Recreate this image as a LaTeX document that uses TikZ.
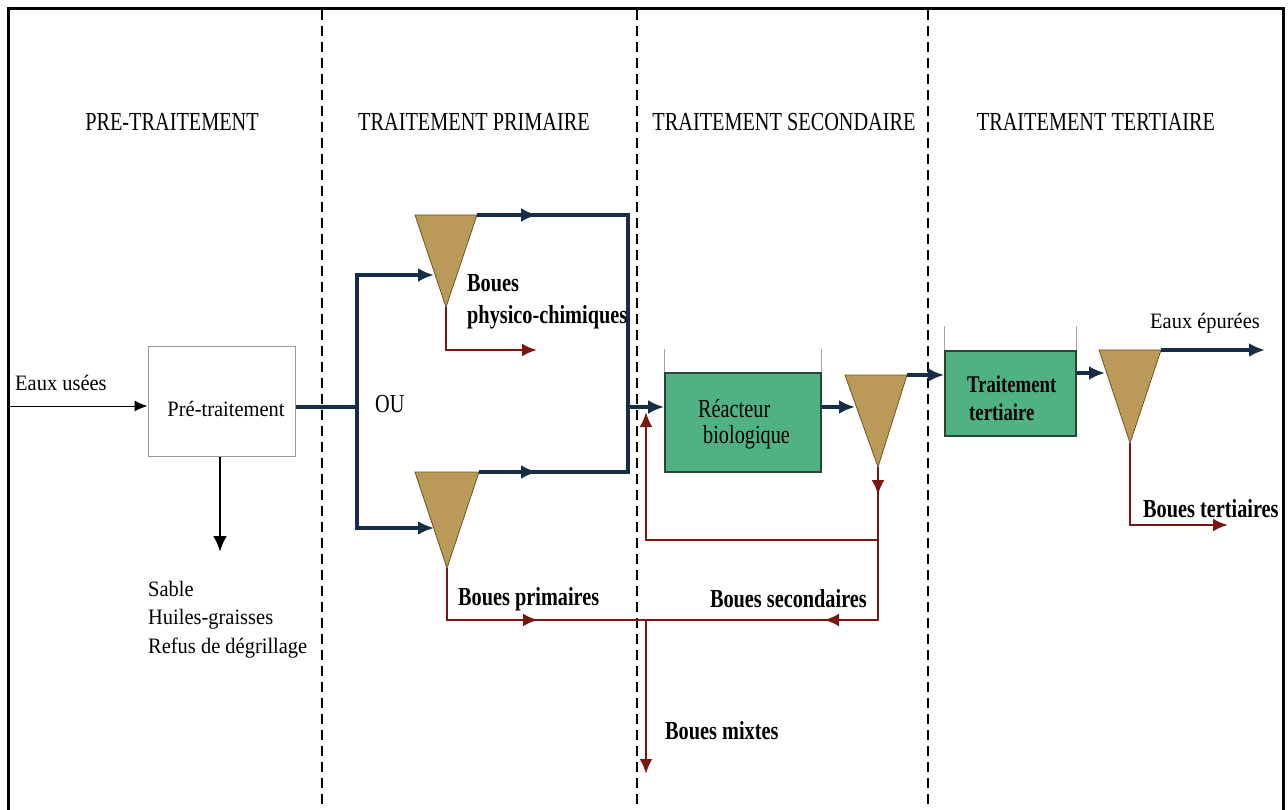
\documentclass[tikz,border=0pt]{standalone}
\usepackage{fontspec}
\setmainfont{Liberation Serif}
\newfontfamily\condserif[FakeStretch=0.78]{Liberation Serif}
\newfontfamily\bodyserif[FakeStretch=0.93]{Liberation Serif}
\usetikzlibrary{arrows.meta}

\definecolor{flowblue}{RGB}{22,45,72}
\definecolor{sludge}{RGB}{122,22,16}
\definecolor{clarfill}{RGB}{187,153,88}
\definecolor{clardraw}{RGB}{110,85,40}
\definecolor{reactgreen}{RGB}{80,178,130}
\definecolor{reactdraw}{RGB}{40,70,55}

\tikzset{
  hdr/.style={font=\condserif\fontsize{26}{30}\selectfont, inner sep=0pt},
  lbl/.style={font=\bodyserif\fontsize{22}{26}\selectfont, inner sep=0pt},
  blbl/.style={font=\condserif\bfseries\fontsize{26}{30}\selectfont, inner sep=0pt},
  tanklbl/.style={font=\condserif\fontsize{26}{30}\selectfont, inner sep=0pt},
  tertlbl/.style={font=\condserif\bfseries\fontsize{24}{28}\selectfont, inner sep=0pt},
  frameline/.style={line width=3pt, black},
  zoneline/.style={line width=2.4pt, black, dash pattern=on 10pt off 6pt},
  prebox/.style={draw=gray!80, line width=1pt, fill=white, inner sep=0pt},
  tank/.style={draw=reactdraw, line width=1.8pt, fill=reactgreen, inner sep=0pt},
  wall/.style={draw=gray!70, line width=1pt},
  clar/.style={fill=clarfill, draw=clardraw, line width=0.8pt, line join=miter},
  bl/.style={draw=flowblue, line width=3.2pt, line join=miter},
  blarrow/.style={bl, -{Latex[length=16pt,width=14pt]}},
  rd/.style={draw=sludge, line width=2.8pt, line join=miter},
  rdarrow/.style={rd, -{Latex[length=15pt,width=13pt]}},
  thinarrow/.style={draw=black, line width=1pt, -{Latex[length=13pt,width=11pt]}},
  blkarrow/.style={draw=black, line width=2.8pt, -{Latex[length=16pt,width=14pt]}},
}

\begin{document}
\begin{tikzpicture}[x=1pt,y=-1pt]
\useasboundingbox (0,0) rectangle (1288,810);
\fill[white] (0,0) rectangle (1288,810);

% outer frame (open at the bottom) and zone separators
\draw[frameline] (8,812) -- (8,9) -- (1283,9) -- (1283,812);
\foreach \zx in {322,637,928} \draw[zoneline] (\zx,10) -- (\zx,810);

% zone headings
\node[hdr, anchor=base] (h1) at (172,131) {PRE-TRAITEMENT};
\node[hdr, anchor=base] (h2) at (474,131) {TRAITEMENT PRIMAIRE};
\node[hdr, anchor=base] (h3) at (784,131) {TRAITEMENT SECONDAIRE};
\node[hdr, anchor=base] (h4) at (1096,131) {TRAITEMENT TERTIAIRE};

% ---------- pre-treatment ----------
\node[prebox, minimum width=147pt, minimum height=109pt] (pre) at (221.5,401.5) {};
\node[lbl, anchor=base] (pretxt) at (226,416) {Pré-traitement};
\coordinate (in0) at (8,406);
\draw[thinarrow] (in0) -- (in0 -| pre.west);
\node[lbl, anchor=base west] (eu) at (15,390) {Eaux usées};

\coordinate (waste) at (220,552);
\draw[blkarrow] (waste |- pre.south) -- (waste);
\node[lbl, anchor=base west] (w1) at (148,596) {Sable};
\node[lbl, anchor=base west] (w2) at (148,624) {Huiles-graisses};
\node[lbl, anchor=base west] (w3) at (148,653) {Refus de dégrillage};

% ---------- primary settlers ----------
\coordinate (t1tl) at (415,215); \coordinate (t1tr) at (477,215); \coordinate (t1ap) at (446,307);
\coordinate (t2tl) at (415,472); \coordinate (t2tr) at (479,472); \coordinate (t2ap) at (447,568);
\draw[clar] (t1tl) -- (t1tr) -- (t1ap) -- cycle;
\draw[clar] (t2tl) -- (t2tr) -- (t2ap) -- cycle;

\coordinate (jn) at (357,407);
\coordinate (t1in) at (434,275);
\coordinate (t2in) at (434,528);
\draw[bl] (jn -| pre.east) -- (jn);
\draw[blarrow] (jn) |- (t1in);
\draw[blarrow] (jn) |- (t2in);
\node[tanklbl, anchor=base west] (ou) at (375,412) {OU};

% settled water towards the biological stage
\coordinate (c1) at (628,215);
\coordinate (c2) at (628,472);
\draw[bl] (t1tr) -- (c1) -- (c2) -- (t2tr);
\draw[blarrow] (t1tr) -- (537,215);
\draw[blarrow] (t2tr) -- (537,472);

% physico-chemical sludge
\coordinate (r1) at (537,350);
\draw[rdarrow] (t1ap) |- (r1);
\node[blbl, anchor=base west] (bp1) at (467,292) {Boues};
\node[blbl, anchor=base west] (bp2) at (467,324) {physico-chimiques};

% ---------- secondary treatment ----------
\node[tank, minimum width=156pt, minimum height=99pt] (reac) at (743,422.5) {};
\draw[wall] (reac.north west) -- ++(0,-23);
\draw[wall] (reac.north east) -- ++(0,-23);
\node[tanklbl, anchor=base west] (rt1) at (698,417) {Réacteur};
\node[tanklbl, anchor=base west] (rt2) at (703,443) {biologique};

\coordinate (m) at (628,407);
\draw[blarrow] (m) -- (m -| reac.west);

\coordinate (t3tl) at (845,375); \coordinate (t3tr) at (907,375); \coordinate (t3ap) at (878,467);
\draw[clar] (t3tl) -- (t3tr) -- (t3ap) -- cycle;
\coordinate (t3in) at (855,407);
\draw[blarrow] (t3in -| reac.east) -- (t3in);

% sludge collection line
\coordinate (sr) at (878,620);
\coordinate (sm) at (646,620);
\draw[rd] (t2ap) |- (sr) -- (t3ap);
\draw[rdarrow] (t2ap |- sr) -- (538,620);
\draw[rdarrow] (sr) -- (824,620);
\draw[rdarrow] (t3ap) -- (878,495);

% return sludge to the reactor
\coordinate (rc) at (878,540);
\coordinate (rin) at (646,412);
\draw[rdarrow] (rc) -| (rin);

% mixed sludge outlet
\coordinate (mx) at (646,774);
\draw[rdarrow] (sm) -- (mx);

\node[blbl, anchor=base west] (bpr) at (458,605) {Boues primaires};
\node[blbl, anchor=base east] (bsc) at (867,607) {Boues secondaires};
\node[blbl, anchor=base west] (bmx) at (665,739) {Boues mixtes};

% ---------- tertiary treatment ----------
\node[tank, minimum width=131pt, minimum height=85pt] (tert) at (1010.5,393.5) {};
\draw[wall] (tert.north west) -- ++(0,-24);
\draw[wall] (tert.north east) -- ++(0,-24);
\node[tertlbl, anchor=base west] (tt1) at (967,392) {Traitement};
\node[tertlbl, anchor=base west] (tt2) at (969,420) {tertiaire};

\draw[blarrow] (t3tr) -- (t3tr -| tert.west);

\coordinate (t4tl) at (1099,350); \coordinate (t4tr) at (1161,350); \coordinate (t4ap) at (1130,443);
\draw[clar] (t4tl) -- (t4tr) -- (t4ap) -- cycle;
\coordinate (t4in) at (1105,373);
\draw[blarrow] (t4in -| tert.east) -- (t4in);

\coordinate (out) at (1265,350);
\draw[blarrow] (t4tr) -- (out);
\node[lbl, anchor=base west] (ep) at (1150,329) {Eaux épurées};

\coordinate (r4) at (1228,525);
\draw[rdarrow] (t4ap) |- (r4);
\node[blbl, anchor=base west] (bt) at (1143,517) {Boues tertiaires};
\end{tikzpicture}
\end{document}
